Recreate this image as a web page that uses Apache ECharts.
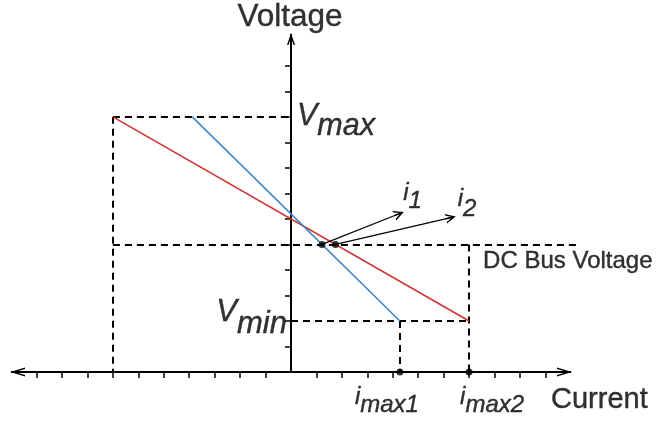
<!DOCTYPE html>
<html>
<head>
<meta charset="utf-8">
<script src="https://cdn.jsdelivr.net/npm/echarts@6/dist/echarts.min.js"></script>
<style>
  html, body { margin: 0; padding: 0; background: #fff; }
  #chart { width: 660px; height: 421px; }
</style>
</head>
<body>
<div id="chart"></div>
<script>
// values in tick units: x = current, y = voltage
const vMax = 10;
const vDcBus = 5;
const vMin = 2;
const iLeft = -7;
const iMax1 = 4.28;
const iMax2 = 7;
const dcBusEnd = 11.25;
const redLine = [[-7, 10], [7, 2]];
const blueLine = [[-3.88, 10], [4.28, 2]];
const opPoints = [[1.22, 5], [1.75, 5]];
const arrowEnds = [[4.25, 6.2], [6.28, 6.05]];
const xTicks = [-10, -9, -8, -7, -6, -5, -4, -3, -2, -1, 1, 2, 3, 4, 5, 6, 7, 8, 9, 10];
const yTicks = [1, 2, 3, 4, 5, 6, 7, 8, 9, 10, 11, 12];

const FONT = 'Liberation Sans, Arial, sans-serif';

// open arrow heads, a stem is added so the line runs right to the tip
const xArrow = 'path://M4.5,0L9,15L7.5,15L4.5,5L1.5,15L0,15ZM3.5,1L5.5,1L5.5,15L3.5,15Z';
const yArrow = 'path://M4,0L8,12L6.5,12L4,4.5L1.5,12L0,12ZM3,1L5,1L5,12L3,12Z';
const iArrow = 'path://M4.5,0L9,9L7.6,9L4.5,2.8L1.4,9L0,9ZM3.9,1L5.1,1L5.1,9L3.9,9Z';

const dashedSegments = [
  [[iLeft, vMax], [0, vMax]],
  [[iLeft, vMax], [iLeft, 0]],
  [[iLeft, vDcBus], [dcBusEnd, vDcBus]],
  [[0, vMin], [iMax2, vMin]],
  [[iMax1, vMin], [iMax1, 0]],
  [[iMax2, vDcBus], [iMax2, 0]]
];

function tok(size, pad, italic) {
  return {
    fontFamily: FONT, fontSize: size, lineHeight: size, color: '#000',
    fontStyle: italic ? 'italic' : 'normal', verticalAlign: 'top',
    textBorderColor: '#000', textBorderWidth: 0.4,
    padding: [pad, 0, 0, 0]
  };
}

function textItem(pos, text, align, offset, rich) {
  return {
    value: pos,
    label: {
      show: true, position: 'inside', formatter: text,
      align: align, verticalAlign: 'top', offset: offset,
      color: '#000', rich: rich
    }
  };
}

const labels = [
  textItem([0, 13.05], '{t|Voltage}', 'center', [-1, -38], { t: tok(31.5, 0, false) }),
  textItem([0, vMax], '{v|V}{s|max}', 'left', [6, -15], { v: tok(30.5, 0, true), s: tok(30.5, 10, true) }),
  textItem([0, vMin], '{v|V}{s|min}', 'right', [-4, -24], { v: tok(31, 0, true), s: tok(31, 12, true) }),
  textItem(arrowEnds[0], '{v|i}{s|1}', 'left', [4, -32], { v: tok(24, 0, true), s: tok(24, 8, true) }),
  textItem(arrowEnds[1], '{v|i}{s|2}', 'left', [7, -30], { v: tok(24, 0, true), s: tok(24, 10, true) }),
  textItem([iMax1, 0], '{v|i}{s|max1}', 'left', [-45, 13], { v: tok(24, 0, true), s: tok(24, 8, true) }),
  textItem([iMax2, 0], '{v|i}{s|max2}', 'left', [-9, 13], { v: tok(24, 0, true), s: tok(24, 8, true) }),
  textItem([10.75, 0], '{t|Current}', 'left', [-13.5, 13.5], { t: tok(29, 0, false) }),
  textItem([iMax2, vDcBus], '{t|DC Bus Voltage}', 'left', [14, 5], { t: tok(24, 0, false) })
];

const chart = echarts.init(document.getElementById('chart'), null, { renderer: 'canvas' });

chart.setOption({
  animation: false,
  backgroundColor: '#fff',
  grid: { left: 17.5, right: 95.5, top: 39, bottom: 49, containLabel: false, outerBoundsMode: 'none' },
  xAxis: {
    type: 'value', min: -10.75, max: 10.75,
    axisLine: {
      onZero: true,
      lineStyle: { color: '#000', width: 2 },
      symbol: [xArrow, xArrow], symbolSize: [9, 15]
    },
    axisTick: { show: true, customValues: xTicks, length: 6, lineStyle: { color: '#000', width: 1.5 } },
    axisLabel: { show: false },
    splitLine: { show: false }
  },
  yAxis: {
    type: 'value', min: 0, max: 13.05,
    axisLine: {
      onZero: true,
      lineStyle: { color: '#000', width: 2 },
      symbol: ['none', yArrow], symbolSize: [8, 12]
    },
    axisTick: { show: true, customValues: yTicks, length: 6, lineStyle: { color: '#000', width: 1.5 } },
    axisLabel: { show: false },
    splitLine: { show: false }
  },
  series: [
    {
      type: 'lines', coordinateSystem: 'cartesian2d', silent: true, clip: false, z: 1,
      symbol: 'none',
      lineStyle: { color: '#000', width: 2, type: [7, 5], opacity: 1 },
      data: dashedSegments.map(c => ({ coords: c }))
    },
    {
      type: 'line', data: redLine, symbol: 'none', silent: true, z: 2,
      lineStyle: { color: '#d23232', width: 1.6 }
    },
    {
      type: 'line', data: blueLine, symbol: 'none', silent: true, z: 2,
      lineStyle: { color: '#3d86c6', width: 1.6 }
    },
    {
      type: 'lines', coordinateSystem: 'cartesian2d', silent: true, z: 3,
      symbol: ['none', iArrow], symbolSize: 10,
      lineStyle: { color: '#000', width: 1.2, opacity: 1 },
      data: opPoints.map((p, k) => ({ coords: [p, arrowEnds[k]] }))
    },
    {
      type: 'scatter', silent: true, z: 4,
      symbol: 'circle', symbolSize: 7,
      itemStyle: { color: '#000' },
      data: opPoints.concat([[iMax1, 0], [iMax2, 0]])
    },
    {
      type: 'scatter', silent: true, z: 5, clip: false,
      symbol: 'circle', symbolSize: 1,
      itemStyle: { color: 'rgba(0,0,0,0)' },
      data: labels
    }
  ]
});
</script>
</body>
</html>
